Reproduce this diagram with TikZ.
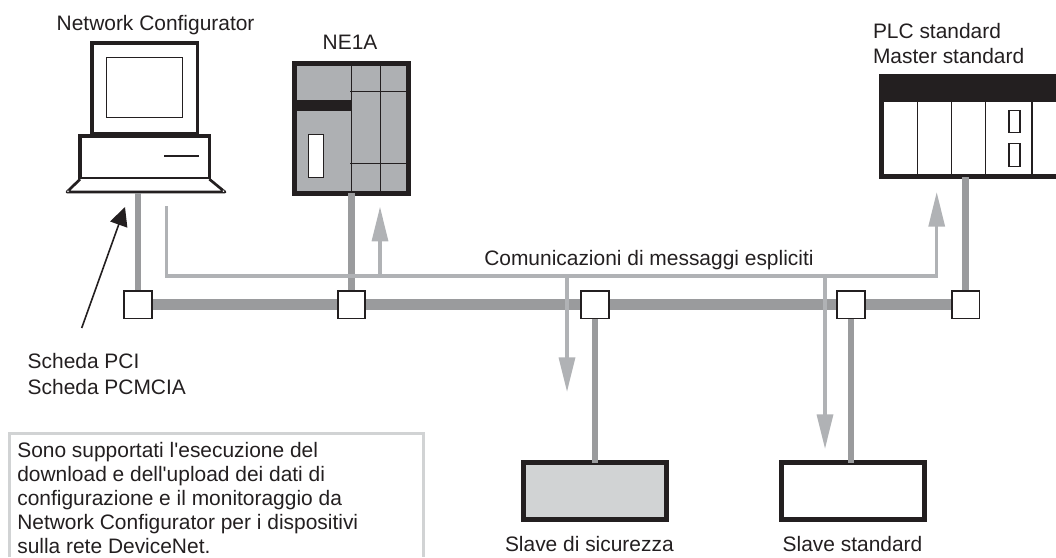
\documentclass[tikz,border=0pt]{standalone}
\usepackage{fontspec}
\setmainfont{Liberation Sans}[Ligatures=TeXOff]
\usetikzlibrary{arrows.meta}
\definecolor{busgray}{HTML}{9A9B9D}
\definecolor{msggray}{HTML}{B0B2B5}
\definecolor{unitgray}{HTML}{AEB0B3}
\definecolor{safegray}{HTML}{D1D3D4}
\definecolor{inkblack}{HTML}{231F20}
\tikzset{
  lbl/.style={inner sep=0pt,outer sep=0pt,text=inkblack,align=left,anchor=north west,
    font=\fontsize{15.7}{18.1}\selectfont},
  lblwide/.style={lbl,font=\fontsize{15.7}{19}\selectfont},
  busline/.style={draw=busgray,line width=8.25pt},
  stem/.style={draw=busgray,line width=5pt},
  msgline/.style={draw=msggray,line width=2.5pt,line join=miter},
  msgarrow/.style={msgline,-{Triangle[length=26pt,width=12pt,fill=msggray,color=msggray]}},
  tap/.style={draw=inkblack,fill=white,line width=1.3pt,minimum width=20.7pt,minimum height=20.7pt,inner sep=0pt,outer sep=0pt},
  thinblk/.style={draw=inkblack,line width=1.15pt},
  midblk/.style={draw=inkblack,line width=2.6pt},
  slavebox/.style={draw=inkblack,line width=3.75pt,minimum width=107.2pt,minimum height=43pt,inner sep=0pt,outer sep=0pt},
}
\begin{document}
\begin{tikzpicture}[x=0.75pt,y=-0.75pt]
\useasboundingbox (0,0) rectangle (1056,557);
% tap nodes
\coordinate (c1) at (138,304.7);
\coordinate (c2) at (351.5,304.7);
\coordinate (c3) at (595,304.7);
\coordinate (c4) at (851,304.7);
\coordinate (c5) at (965.7,304.7);
% devices
\node[midblk,fill=white,minimum width=79pt,minimum height=68pt,inner sep=0pt,outer sep=0pt] (monitor) at (144.7,88.5) {};
\node[thinblk,line width=1.2pt,fill=white,minimum width=57pt,minimum height=45pt,inner sep=0pt,outer sep=0pt] (screen) at (144.4,87.5) {};
\node[midblk,fill=white,minimum width=97pt,minimum height=32.5pt,inner sep=0pt,outer sep=0pt] (base) at (144.7,157.5) {};
\draw[thinblk,line width=1.2pt] (164,155.7) -- (198.7,155.7);
\draw[midblk,line width=2pt,fill=white,line join=round] (base.south west) -- (67,192) -- (225,192) -- (base.south east);
\draw[draw=inkblack,fill=white,line width=.4pt] (68,191.2) circle (1.5) (223.5,191.2) circle (1.5);
\coordinate (pcfoot) at (138,193);
% NE1A
\node[draw=inkblack,fill=unitgray,line width=3.75pt,minimum width=86pt,minimum height=97.5pt,inner sep=0pt,outer sep=0pt] (ne1a) at (351.4,128.2) {};
\fill[inkblack] (296.7,100) rectangle (351.7,110.7);
\draw[thinblk] (351.7,65) -- (351.7,192) (380.3,65) -- (380.3,192) (350,91.3) -- (406,91.3) (350,163.3) -- (406,163.3);
\node[thinblk,fill=white,minimum width=11.2pt,minimum height=32.3pt,inner sep=0pt] (ne1awin) at (315.8,155.8) {};
% PLC
\fill[inkblack] (879,74.3) rectangle (1056,179.3);
\fill[white] (884.3,102.3) rectangle (1056,174.3);
\draw[thinblk] (917.7,102.3) -- (917.7,174.3) (951.7,102.3) -- (951.7,174.3) (985.7,102.3) -- (985.7,174.3) (1032,102.3) -- (1032,174.3);
\node[thinblk,minimum width=8.2pt,minimum height=16.2pt,inner sep=0pt] (plcled1) at (1014.5,121.5) {};
\node[thinblk,minimum width=8.2pt,minimum height=17.5pt,inner sep=0pt] (plcled2) at (1014.5,155) {};
% slaves
\node[slavebox,fill=safegray] (safe) at (595,491.2) {};
\node[slavebox,fill=white] (std) at (853.3,491.2) {};
% bus
\draw[busline] (c1) -- (c5);
% stems
\draw[stem] (pcfoot) -- (c1);
\draw[stem] (ne1a.south -| c2) -- (c2);
\draw[stem] (c3) -- (safe.north -| c3);
\draw[stem] (c4) -- (std.north -| c4);
\draw[stem] (965.7,177) -- (c5);
% explicit messages
\coordinate (mstart) at (166.7,206);
\coordinate (mcorner) at (166.7,276);
\coordinate (mend) at (936.7,276);
\coordinate (mtip) at (936.7,192);
\coordinate (ne1atip) at (380,206.7);
\coordinate (safetip) at (567,392);
\coordinate (stdtip) at (825,449);
\draw[msgarrow] (mstart) -- (mcorner) -- (mend) -- (mtip);
\draw[msgarrow] (ne1atip |- mend) -- (ne1atip);
\draw[msgarrow] (safetip |- mend) -- (safetip);
\draw[msgarrow] (stdtip |- mend) -- (stdtip);
% taps
\node[tap] (t1) at (c1) {};
\node[tap] (t2) at (c2) {};
\node[tap] (t3) at (c3) {};
\node[tap] (t4) at (c4) {};
\node[tap] (t5) at (c5) {};
% card pointer
\coordinate (ptrfrom) at (81.7,328);
\coordinate (ptrtip) at (125,207);
\draw[draw=inkblack,line width=1.2pt,-{Triangle[length=14pt,width=13.5pt,color=inkblack]}] (ptrfrom) -- (ptrtip);
% note frame
\draw[draw=safegray,line width=2.3pt] (9.5,557) -- (9.5,433.5) -- (423.5,433.5) -- (423.5,557);
% labels
\node[lbl] (lnc) at (56.7,15) {Network Configurator};
\node[lbl] (lne) at (322.7,35) {NE1A};
\node[lblwide] (lplc) at (873,23) {PLC standard\\Master standard};
\node[lbl] (lmsg) at (484.3,250) {Comunicazioni di messaggi espliciti};
\node[lbl] (lsafe) at (505,536.7) {Slave di sicurezza};
\node[lbl] (lstd) at (782.7,536.7) {Slave standard};
\node[lblwide] (lcard) at (27.7,353.7) {Scheda PCI\\Scheda PCMCIA};
\node[lbl] (lnote) at (17.3,442) {Sono supportati l'esecuzione del\\download e dell'upload dei dati di\\configurazione e il monitoraggio da\\Network Configurator per i dispositivi\\sulla rete DeviceNet.};
\end{tikzpicture}
\end{document}
